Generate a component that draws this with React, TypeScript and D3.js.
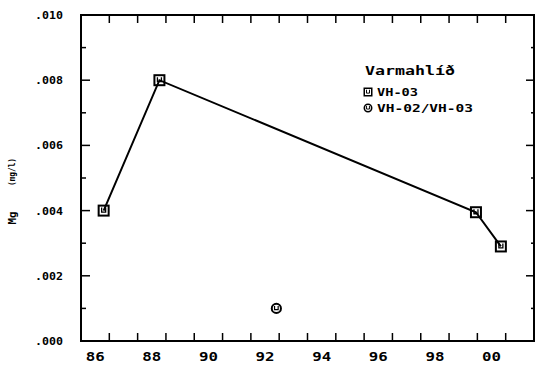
import React from 'react';
import * as d3 from 'd3';

// Varmahlíð – Mg concentration by sampling date
const vh03Years = [1986.8, 1988.77, 1999.95, 2000.83];
const vh03Mg = [0.004, 0.008, 0.00395, 0.0029];
const vh02Years = [1992.9];
const vh02Mg = [0.001];

const xLabelYears = [1986, 1988, 1990, 1992, 1994, 1996, 1998, 2000];
const xLabels = ['86', '88', '90', '92', '94', '96', '98', '00'];
const yLabelValues = [0, 0.002, 0.004, 0.006, 0.008, 0.01];
const yLabels = ['.000', '.002', '.004', '.006', '.008', '.010'];

const W = 535;
const H = 365;
const FONT = '"DejaVu Sans Mono", monospace';

const x = d3.scaleLinear().domain([1986, 2002]).range([81, 534]);
const y = d3.scaleLinear().domain([0, 0.01]).range([341, 15]);

const SquareMark = ({ cx, cy, s = 1 }: { cx: number; cy: number; s?: number }) => (
  <g transform={`translate(${cx},${cy}) scale(${s})`} fill="none" stroke="#000">
    <rect x={-5} y={-5} width={10} height={10} strokeWidth={2} />
    <path d="M-2,-3V1.5H2V-3" strokeWidth={1.3} />
  </g>
);

const CircleMark = ({ cx, cy, s = 1 }: { cx: number; cy: number; s?: number }) => (
  <g transform={`translate(${cx},${cy}) scale(${s})`} fill="none" stroke="#000">
    <circle r={4.6} strokeWidth={2} />
    <path d="M-1.8,-2.5V1.3H1.8V-2.5" strokeWidth={1.2} />
  </g>
);

export default function App() {
  const [x0, x1] = x.range();
  const [y0, y1] = y.range();
  const yearTicks = d3.range(1987, 2002);
  const yMinor = d3.range(1, 10, 2).map((v) => v / 1000);
  const line = d3
    .line<number>()
    .x((_, i) => x(vh03Years[i]))
    .y((d) => y(d));

  return (
    <svg
      width={W}
      height={H}
      style={{ position: 'absolute', left: 0, top: 0, background: '#fff' }}
    >
      <rect width={W} height={H} fill="#fff" />

      {/* frame */}
      <rect
        x={x0}
        y={y1}
        width={x1 - x0}
        height={y0 - y1}
        fill="none"
        stroke="#000"
        strokeWidth={2}
      />

      {/* year ticks, bottom and top, pointing inward */}
      {yearTicks.map((t) => (
        <g key={t} stroke="#000" strokeWidth={1.5}>
          <line x1={x(t)} x2={x(t)} y1={y0} y2={y0 - 8} />
          <line x1={x(t)} x2={x(t)} y1={y1} y2={y1 + 8} />
        </g>
      ))}

      {/* value ticks, left and right */}
      {yLabelValues.slice(1, -1).map((v) => (
        <g key={v} stroke="#000" strokeWidth={1.5}>
          <line x1={x0} x2={x0 + 9} y1={y(v)} y2={y(v)} />
          <line x1={x1} x2={x1 - 8} y1={y(v)} y2={y(v)} />
        </g>
      ))}
      {yMinor.map((v) => (
        <g key={v} stroke="#000" strokeWidth={1.5}>
          <line x1={x0} x2={x0 + 5} y1={y(v)} y2={y(v)} />
          <line x1={x1} x2={x1 - 3} y1={y(v)} y2={y(v)} />
        </g>
      ))}

      {/* tick labels */}
      {yLabelValues.map((v, i) => (
        <text
          key={v}
          x={63}
          y={y(v) + 4}
          textAnchor="end"
          fontFamily={FONT}
          fontWeight="bold"
          fontSize={10.5}
          textLength={28}
          lengthAdjust="spacingAndGlyphs"
        >
          {yLabels[i]}
        </text>
      ))}
      {xLabelYears.map((t, i) => (
        <text
          key={t}
          x={x(t + 0.5)}
          y={361}
          textAnchor="middle"
          fontFamily={FONT}
          fontWeight="bold"
          fontSize={12.5}
          textLength={19}
          lengthAdjust="spacingAndGlyphs"
        >
          {xLabels[i]}
        </text>
      ))}

      {/* axis title */}
      <g transform="translate(16,218) rotate(-90)" fontFamily={FONT} fontWeight="bold">
        <text x={0} y={0} textAnchor="middle" fontSize={11} textLength={13} lengthAdjust="spacingAndGlyphs">
          Mg
        </text>
        <text x={46} y={-1} textAnchor="middle" fontSize={9} textLength={28} lengthAdjust="spacingAndGlyphs">
          (mg/l)
        </text>
      </g>

      {/* VH-03 series */}
      <path d={line(vh03Mg) ?? ''} fill="none" stroke="#000" strokeWidth={2} />
      {vh03Mg.map((v, i) => (
        <SquareMark key={i} cx={x(vh03Years[i])} cy={y(v)} />
      ))}

      {/* VH-02/VH-03 series */}
      {vh02Mg.map((v, i) => (
        <CircleMark key={i} cx={x(vh02Years[i])} cy={y(v)} />
      ))}

      {/* legend */}
      <g fontFamily={FONT} fontWeight="bold">
        <text x={365} y={75} fontSize={11.5} textLength={90} lengthAdjust="spacingAndGlyphs">
          Varmahlíð
        </text>
        <SquareMark cx={368} cy={92} s={0.75} />
        <text x={377} y={96} fontSize={10.5} textLength={41} lengthAdjust="spacingAndGlyphs">
          VH-03
        </text>
        <CircleMark cx={368} cy={108} s={0.8} />
        <text x={377} y={112} fontSize={10.5} textLength={96} lengthAdjust="spacingAndGlyphs">
          VH-02/VH-03
        </text>
      </g>
    </svg>
  );
}
